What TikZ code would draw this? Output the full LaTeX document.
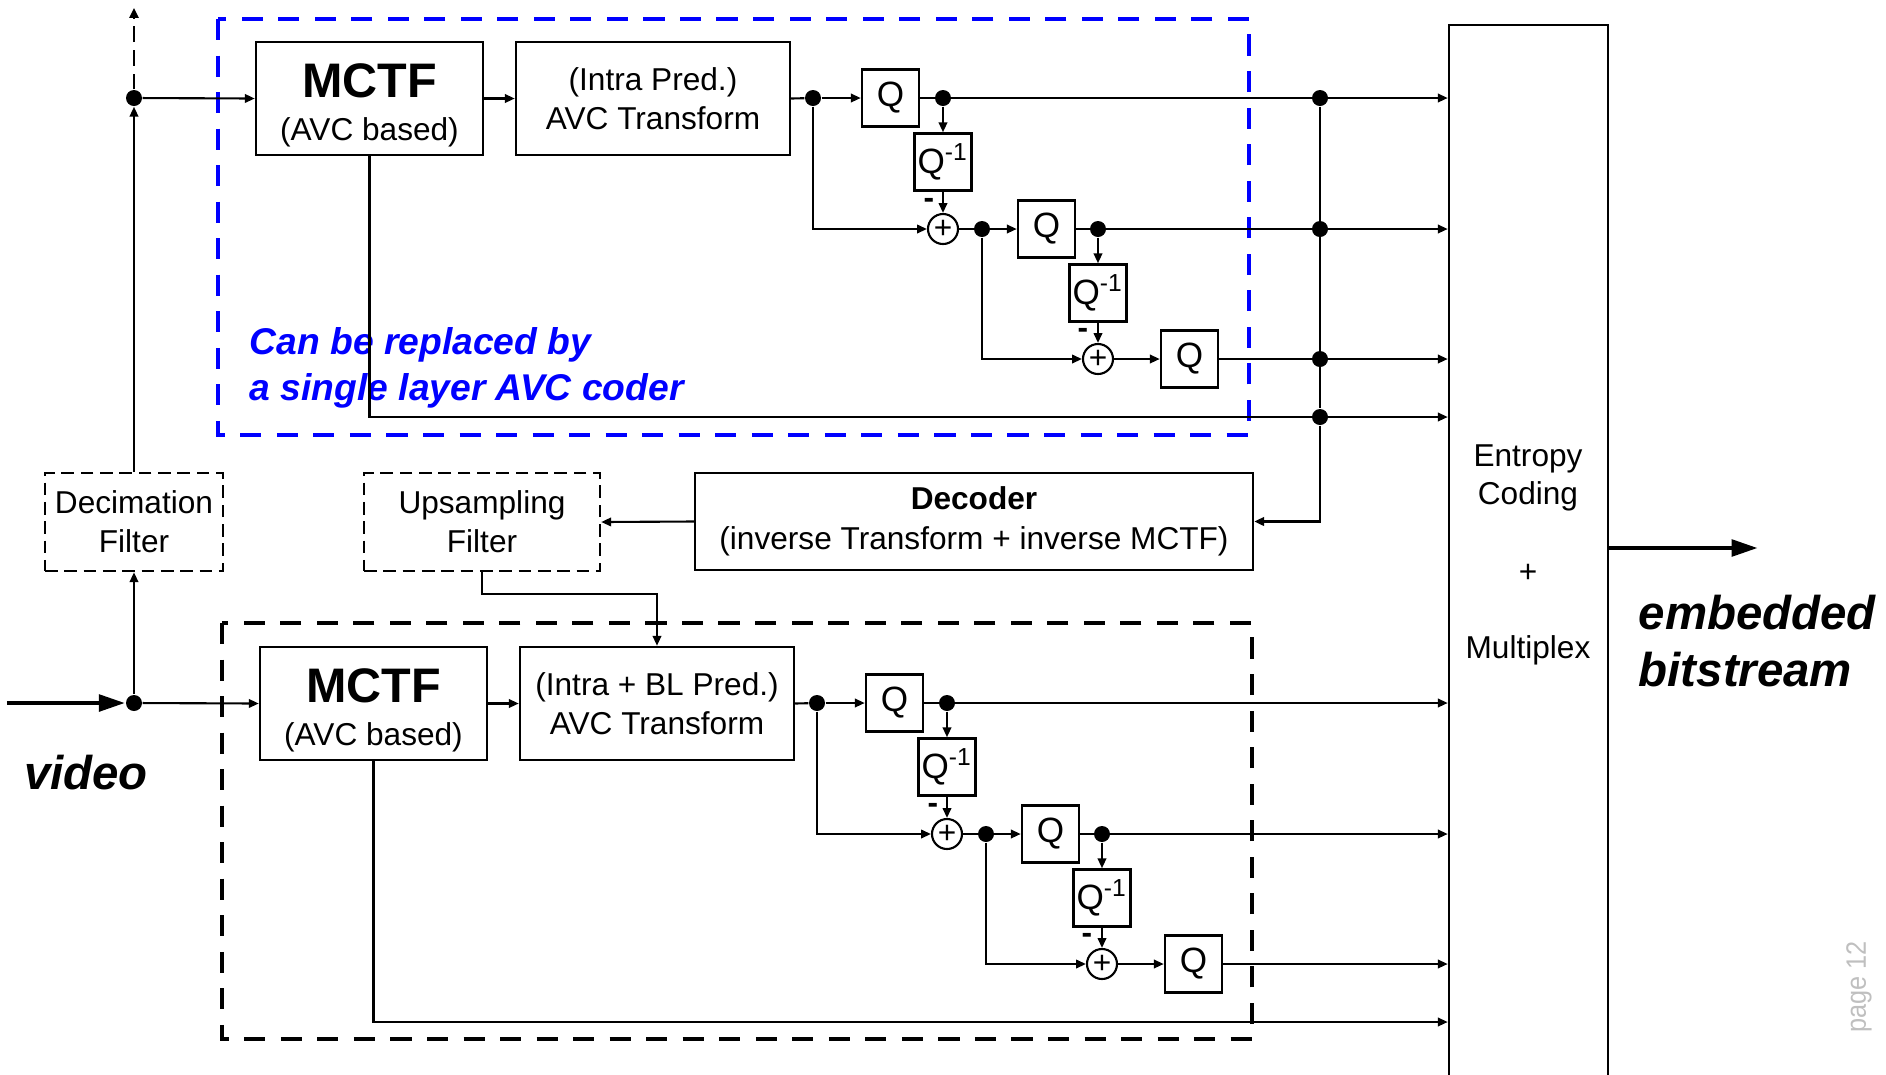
\documentclass[tikz,border=0pt]{standalone}
\usepackage{fontspec}
\setmainfont{Liberation Sans}
\usetikzlibrary{arrows.meta,calc}

\tikzset{
  wh/.style 2 args={minimum width=#1*0.2847pt, minimum height=#2*0.2847pt},
  blk/.style={draw, line width=0.7pt, inner sep=0pt, align=center,
              font=\fontsize{9}{11}\selectfont},
  dashbox/.style={blk, dash pattern=on 3.6pt off 1.9pt},
  qbox/.style={blk, wh={57}{57}, font=\fontsize{10}{11}\selectfont},
  sumc/.style={circle, draw, line width=0.6pt, inner sep=0pt,
               minimum size=30*0.2847pt, font=\fontsize{9}{10}\selectfont},
  jdot/.style={circle, fill, inner sep=0pt, minimum size=16*0.2847pt},
  wire/.style={line width=0.6pt},
  conn/.style={wire, -{Triangle[length=2.8pt,width=2.4pt]}},
  bigarrow/.style={line width=1.4pt, -{Triangle[length=7.5pt,width=4.6pt]}},
  minus/.style={inner sep=0pt, font=\fontsize{9}{10}\selectfont\bfseries},
  layerbox/.style={line width=1.4pt, dash pattern=on 6pt off 4.4pt},
}

% One coding layer: MCTF, transform and the three-step quantisation ladder.
% #1 name prefix, #2/#3 shift, #4 transform label
\newcommand\codinglayer[4]{%
\begin{scope}[shift={(#2,#3)}]
  \node[blk, wh={227}{113}, font=\fontsize{9}{12.3}\selectfont] (#1mctf) at (369.5,98.5)
       {\rule{0pt}{13.6pt}{\fontsize{13.8}{12}\selectfont\bfseries MCTF}\\(AVC based)};
  \node[blk, wh={274}{113}] (#1tr) at (653,98.5) {#4};
  \node[jdot] (#1a) at (813,98) {};
  \node[qbox] (#1q1) at (890.5,98) {Q};
  \node[jdot] (#1b) at (943,98) {};
  \node[qbox] (#1qi1) at (943,162) {Q\textsuperscript{-1}};
  \node[sumc] (#1s1) at (943,229) {+};
  \node[minus] (#1m1) at (929,203) {-};
  \node[jdot] (#1c) at (982,229) {};
  \node[qbox] (#1q2) at (1046.5,229) {Q};
  \node[jdot] (#1d) at (1098,229) {};
  \node[qbox] (#1qi2) at (1098,293) {Q\textsuperscript{-1}};
  \node[sumc] (#1s2) at (1098,359) {+};
  \node[minus] (#1m2) at (1083,333) {-};
  \node[qbox] (#1q3) at (1189.5,359) {Q};
  \coordinate (#1low) at (369.5,417);
  % signal paths
  \draw[conn] (#1mctf.east) -- (#1tr.west);
  \draw[wire] (#1tr.east) -- (#1a);
  \draw[conn] (#1a) -- (#1q1.west);
  \draw[conn] (#1q1.east) -- (#1q1.east -| ent.west);
  \draw[conn] (#1b) -- (#1qi1.north);
  \draw[conn] (#1qi1.south) -- (#1s1.north);
  \draw[conn] (#1a) |- (#1s1.west);
  \draw[conn] (#1s1.east) -- (#1q2.west);
  \draw[conn] (#1q2.east) -- (#1q2.east -| ent.west);
  \draw[conn] (#1d) -- (#1qi2.north);
  \draw[conn] (#1qi2.south) -- (#1s2.north);
  \draw[conn] (#1c) |- (#1s2.west);
  \draw[conn] (#1s2.east) -- (#1q3.west);
  \draw[conn] (#1q3.east) -- (#1q3.east -| ent.west);
  \draw[conn] (#1mctf.south) |- (ent.west |- #1low);
\end{scope}}

\begin{document}
\begin{tikzpicture}[x=0.2847pt, y=-0.2847pt]
  \useasboundingbox (0,0) rectangle (1886,1075);

  % entropy coder / multiplexer column
  \node[draw, line width=0.7pt, inner sep=0pt, wh={159}{1060}] (ent) at (1528.5,555) {};
  \node[font=\fontsize{9}{10.8}\selectfont, align=center] (entA) at (1528,478) {Entropy\\Coding};
  \node[font=\fontsize{9}{10.6}\selectfont] (entB) at (1528,573) {+};
  \node[font=\fontsize{9}{10.6}\selectfont] (entC) at (1528,650) {Multiplex};

  % layer frames and note
  \draw[layerbox, blue] (218,19) rectangle (1249,435);
  \draw[layerbox, black] (222,623) rectangle (1252,1039);
  \node[anchor=west, align=left, inner sep=0pt, text=blue,
        font=\fontsize{10.6}{13}\selectfont\bfseries\itshape] (note) at (249,368)
        {Can be replaced by\\a single layer AVC coder};

  % the two coding layers
  \codinglayer{L1}{0}{0}{(Intra Pred.)\\AVC Transform}
  \codinglayer{L2}{4}{605}{(Intra + BL Pred.)\\AVC Transform}

  % spatial decimation / base-layer reconstruction
  \node[jdot] (tl) at (134,98) {};
  \node[jdot] (vj) at (134,703) {};
  \node[dashbox, wh={178}{98}] (decim) at (134,522) {Decimation\\Filter};
  \node[dashbox, wh={236}{98}] (ups) at (482,522) {Upsampling\\Filter};
  \node[blk, wh={558}{97}, font=\fontsize{9}{11.4}\selectfont] (dcd) at (974,521.5)
       {\textbf{Decoder}\\(inverse Transform + inverse MCTF)};
  \coordinate (vin) at (7,703);
  \coordinate (topout) at (134,8);
  \coordinate (bsout) at (1758,548);

  % base-layer bus to the decoder
  \node[jdot] (j1) at (1320,98) {};
  \node[jdot] (j2) at (1320,229) {};
  \node[jdot] (j3) at (1320,359) {};
  \node[jdot] (j4) at (1320,417) {};
  \draw[line width=0.8pt] (j1) -- (j4);
  \draw[conn, line width=0.8pt] (j4) |- (dcd.east);
  \draw[conn] (dcd.west) -- (ups.east);
  \draw[conn] (ups.south) -- ++(0,22) -| (L2tr.north);

  % input distribution
  \draw[bigarrow] (vin) -- (vj);
  \draw[conn] (vj) -- (decim.south);
  \draw[conn] (vj) -- (L2mctf.west);
  \draw[conn] (decim.north) -- (tl);
  \draw[conn] (tl) -- (L1mctf.west);
  \draw[wire, dash pattern=on 4.5pt off 2.2pt, -{Triangle[length=2.8pt,width=2.6pt]}] (tl) -- (topout);

  % output
  \draw[bigarrow] (ent.east |- bsout) -- (bsout);

  % captions
  \node[font=\fontsize{13.5}{16}\selectfont\bfseries\itshape] (video) at (86,773) {video};
  \node[anchor=west, align=left, inner sep=0pt,
        font=\fontsize{13.5}{16}\selectfont\bfseries\itshape] (bits) at (1638,641)
        {embedded\\bitstream};
  \node[rotate=90, xscale=0.9, text=black!25, inner sep=0pt,
        font=\fontsize{8}{9}\selectfont] (pg) at (1859,987) {page 12};
\end{tikzpicture}
\end{document}
